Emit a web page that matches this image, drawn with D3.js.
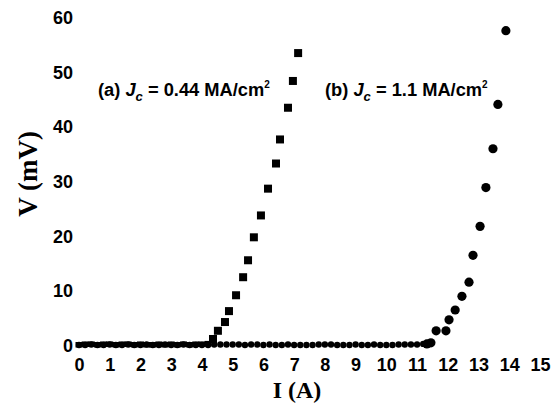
<!DOCTYPE html>
<html>
<head>
<meta charset="utf-8">
<script src="https://cdn.jsdelivr.net/npm/d3@7"></script>
<style>
  body { margin: 0; background: #fff; }
  svg { display: block; }
  .tick text { font-family: "Liberation Sans", Arial, sans-serif; font-weight: bold; font-size: 18px; fill: #000; }
</style>
</head>
<body>
<div id="chart"></div>
<script>
// sample (a): transition points, squares
var aCurrent = [4.36, 4.52, 4.75, 4.88, 5.11, 5.34, 5.50, 5.69, 5.92, 6.15, 6.41, 6.54, 6.80, 6.96, 7.13];
var aVoltage = [1.1, 2.6, 4.2, 6.2, 9.1, 12.4, 15.5, 19.7, 23.7, 28.6, 33.2, 37.6, 43.4, 48.3, 53.4];
// sample (a): flat part below Ic
var aBaseCurrent = [0.0, 0.2, 0.4, 0.6, 0.8, 1.0, 1.2, 1.4, 1.6, 1.8, 2.0, 2.2, 2.4, 2.6, 2.8, 3.0, 3.2, 3.4, 3.6, 3.8, 4.0, 4.2];
var aBaseVoltage = [0.0, 0.1, 0.1, 0.0, 0.1, 0.1, 0.0, 0.1, 0.1, 0.0, 0.1, 0.0, 0.0, 0.1, 0.0, 0.1, 0.0, 0.1, 0.0, 0.1, 0.1, 0.2];

// sample (b): transition points, circles
var bCurrent = [11.32, 11.45, 11.62, 11.94, 12.04, 12.24, 12.46, 12.69, 12.82, 13.05, 13.24, 13.47, 13.63, 13.89];
var bVoltage = [0.2, 0.4, 2.6, 2.6, 4.6, 6.4, 8.9, 11.5, 16.4, 21.7, 28.8, 35.9, 44.0, 57.5];
// sample (b): flat part below Ic
var bBaseCurrent = [0.0, 0.2, 0.4, 0.6, 0.8, 1.0, 1.2, 1.4, 1.6, 1.8, 2.0, 2.2, 2.4, 2.6, 2.8, 3.0, 3.2, 3.4, 3.6, 3.8,
                    4.0, 4.2, 4.4, 4.6, 4.8, 5.0, 5.2, 5.4, 5.6, 5.8, 6.0, 6.2, 6.4, 6.6, 6.8, 7.0, 7.2, 7.4, 7.6, 7.8,
                    8.0, 8.2, 8.4, 8.6, 8.8, 9.0, 9.2, 9.4, 9.6, 9.8, 10.0, 10.2, 10.4, 10.6, 10.8, 11.0, 11.2];
var bBaseVoltage = [0.0, 0.0, 0.1, 0.0, 0.0, 0.1, 0.0, 0.0, 0.1, 0.0, 0.0, 0.1, 0.0, 0.0, 0.1, 0.0, 0.0, 0.1, 0.0, 0.0,
                    0.0, 0.0, 0.1, 0.1, 0.1, 0.1, 0.1, 0.0, 0.1, 0.1, 0.0, 0.1, 0.0, 0.0, 0.1, 0.0, 0.0, 0.0, 0.0, 0.1,
                    0.1, 0.1, 0.0, 0.0, 0.0, 0.1, 0.0, 0.0, 0.1, 0.0, 0.0, 0.0, 0.1, 0.1, 0.1, 0.1, 0.2];

var xTicks = [0, 1, 2, 3, 4, 5, 6, 7, 8, 9, 10, 11, 12, 13, 14, 15];
var yTicks = [0, 10, 20, 30, 40, 50, 60];

var width = 555, height = 405;

var x = d3.scaleLinear().domain([0, 15]).range([79, 540]);
var y = d3.scaleLinear().domain([0, 60]).range([345, 17]);

var svg = d3.select("#chart").append("svg")
    .attr("width", width)
    .attr("height", height);

// axes: labels only, no lines
var gx = svg.append("g")
    .attr("transform", "translate(0," + y(0) + ")")
    .call(d3.axisBottom(x).tickValues(xTicks).tickSize(0).tickPadding(13).tickFormat(d3.format("d")));
gx.select(".domain").remove();

var gy = svg.append("g")
    .attr("transform", "translate(" + x(0) + ",0)")
    .call(d3.axisLeft(y).tickValues(yTicks).tickSize(0).tickPadding(6).tickFormat(d3.format("d")));
gy.select(".domain").remove();
gy.selectAll(".tick text").attr("dy", "0.36em");

function zip(a, b) { return a.map(function(v, i){ return [v, b[i]]; }); }

// flat parts: small marks that merge into a thick line
svg.append("g").selectAll("rect")
    .data(zip(aBaseCurrent, aBaseVoltage))
    .enter().append("rect")
    .attr("x", function(d){ return x(d[0]) - 3.5; })
    .attr("y", function(d){ return y(d[1]) - 3; })
    .attr("width", 7).attr("height", 5.5)
    .attr("fill", "#000");

svg.append("g").selectAll("circle")
    .data(zip(bBaseCurrent, bBaseVoltage))
    .enter().append("circle")
    .attr("cx", function(d){ return x(d[0]); })
    .attr("cy", function(d){ return y(d[1]); })
    .attr("r", 3.2)
    .attr("fill", "#000");

// transition: squares (a)
svg.append("g").selectAll("rect")
    .data(zip(aCurrent, aVoltage))
    .enter().append("rect")
    .attr("x", function(d){ return x(d[0]) - 4; })
    .attr("y", function(d){ return y(d[1]) - 4; })
    .attr("width", 8).attr("height", 8)
    .attr("fill", "#000");

// transition: circles (b)
svg.append("g").selectAll("circle")
    .data(zip(bCurrent, bVoltage))
    .enter().append("circle")
    .attr("cx", function(d){ return x(d[0]); })
    .attr("cy", function(d){ return y(d[1]); })
    .attr("r", 4.6)
    .attr("fill", "#000");

// annotations
function jcLabel(px, py, tag, val) {
  var t = svg.append("text")
      .attr("x", px).attr("y", py)
      .style("font-family", "'Liberation Sans', Arial, sans-serif")
      .style("font-weight", "bold")
      .style("font-size", "18.3px");
  t.append("tspan").text(tag + " ");
  t.append("tspan").style("font-style", "italic").text("J");
  t.append("tspan").style("font-style", "italic").style("font-size", "13px").attr("dy", 5).text("c");
  t.append("tspan").attr("dy", -5).text(" = " + val + " MA/cm");
  t.append("tspan").style("font-size", "10px").attr("dy", -8).text("2");
}
jcLabel(98, 96, "(a)", "0.44");
jcLabel(325, 96, "(b)", "1.1");

// axis titles
svg.append("text")
    .attr("x", 297).attr("y", 398)
    .attr("text-anchor", "middle")
    .style("font-family", "'Liberation Serif', 'Times New Roman', serif")
    .style("font-weight", "bold")
    .style("font-size", "24px")
    .text("I (A)");

svg.append("text")
    .attr("transform", "translate(37,174) rotate(-90)")
    .attr("text-anchor", "middle")
    .style("font-family", "'Liberation Serif', 'Times New Roman', serif")
    .style("font-weight", "bold")
    .style("font-size", "27px")
    .text("V (mV)");
</script>
</body>
</html>
